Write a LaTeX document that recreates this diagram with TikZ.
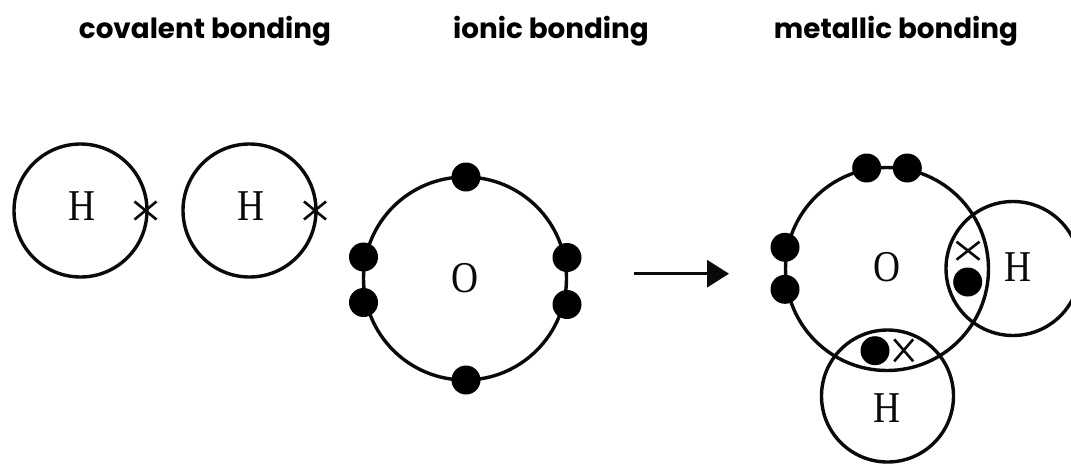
\documentclass[tikz,border=0pt]{standalone}
\usepackage{fontspec}
\setmainfont{Liberation Serif}
\newfontfamily\titlefont{Poppins}
\usetikzlibrary{shapes.misc,arrows.meta}
\definecolor{ink}{HTML}{0A0A0A}
\tikzset{
  shell/.style={circle,draw=ink,line width=3.4pt,inner sep=0pt,outer sep=0pt,minimum size=#1},
  electron/.style={circle,fill=black,inner sep=0pt,outer sep=0pt,minimum size=29pt},
  crossmark/.style={cross out,draw=ink,line width=2.6pt,inner sep=0pt,outer sep=0pt},
  atomlabel/.style={font=\fontsize{44}{44}\selectfont,text=ink,xscale=.85,transform shape,inner sep=0pt,anchor=center},
  bondtitle/.style={font=\titlefont\bfseries\fontsize{27.8}{32}\selectfont,text=black,inner sep=0pt,anchor=base},
}
\begin{document}
\begin{tikzpicture}[x=1pt,y=-1pt]
\useasboundingbox (0,0) rectangle (1071,464);
\fill[white] (0,0) rectangle (1071,464);
% titles
\node[bondtitle] (t1) at (205,38) {covalent bonding};
\node[bondtitle] (t2) at (551,38) {ionic bonding};
\node[bondtitle] (t3) at (896,38) {metallic bonding};
% left hydrogen atoms
\node[shell=133pt] (h1) at (80.5,210.5) {};
\node[shell=133pt] (h2) at (249.5,210.5) {};
\node[atomlabel] (h1l) at (82.5,206.5) {H};
\node[atomlabel] (h2l) at (251.5,206.5) {H};
\node[crossmark,minimum width=22pt,minimum height=18pt] (x1) at (145.5,210.5) {};
\node[crossmark,minimum width=22pt,minimum height=18pt] (x2) at (315,210.5) {};
% oxygen atom
\node[shell=203pt] (o1) at (465,278.5) {};
\node[atomlabel] (o1l) at (465,278) {O};
\node[electron] (e1) at (466,177) {};
\node[electron] (e2) at (466,380) {};
\node[electron] (e3) at (363.5,257) {};
\node[electron] (e4) at (363.5,302.5) {};
\node[electron] (e5) at (567,257.5) {};
\node[electron] (e6) at (567,304.5) {};
% arrow
\coordinate (as) at (634,273.7);
\coordinate (ae) at (729,273.7);
\draw[draw=ink,line width=3.2pt,-{Triangle[length=22pt,width=27pt]}] (as) -- (ae);
% water molecule
\node[shell=203pt] (o2) at (887,269) {};
\node[shell=134pt] (h3) at (1013,268.5) {};
\node[shell=132pt] (h4) at (887.5,396) {};
\node[atomlabel] (o2l) at (886.7,267.5) {O};
\node[atomlabel] (h3l) at (1018,267) {H};
\node[atomlabel] (h4l) at (886.7,408) {H};
\node[electron] (e7) at (866.7,168) {};
\node[electron] (e8) at (907.3,168) {};
\node[electron] (e9) at (785,247.3) {};
\node[electron] (e10) at (785,289.3) {};
\node[electron] (e11) at (967.7,282) {};
\node[electron] (e12) at (875,350.7) {};
\node[crossmark,minimum width=23pt,minimum height=18pt] (x3) at (968,250.7) {};
\node[crossmark,minimum width=19pt,minimum height=22pt] (x4) at (903.7,350.3) {};
\end{tikzpicture}
\end{document}
